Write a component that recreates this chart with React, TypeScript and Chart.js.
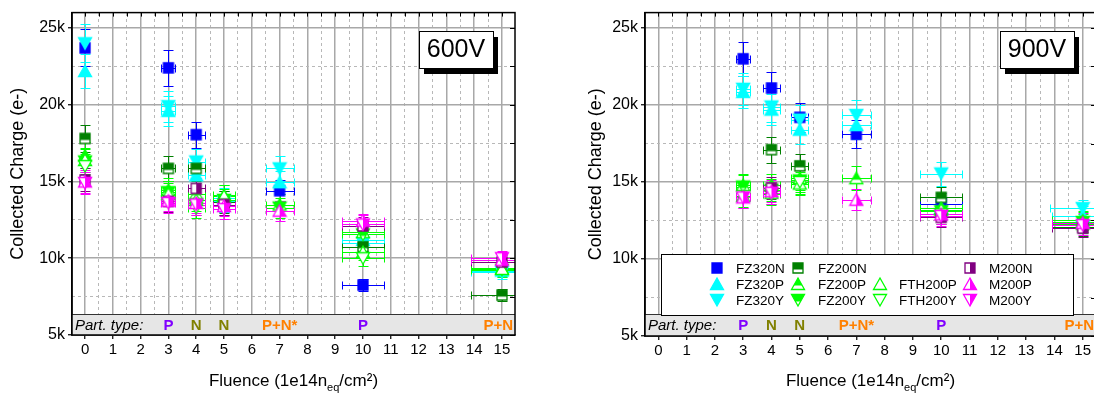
import React, { useEffect, useRef } from 'react';
import { Chart, registerables } from 'chart.js';
Chart.register(...registerables);

const FONT = '"Liberation Sans", Arial, Helvetica, sans-serif';

// ---------- axis / category data ----------
const X_TICKS = [0, 1, 2, 3, 4, 5, 6, 7, 8, 9, 10, 11, 12, 13, 14, 15];
const X_MINOR = [0.5, 1.5, 2.5, 3.5, 4.5, 5.5, 6.5, 7.5, 8.5, 9.5, 10.5, 11.5, 12.5, 13.5, 14.5];
const Y_TICKS = [5000, 10000, 15000, 20000, 25000];
const Y_MINOR = [7500, 12500, 17500, 22500];
const X_MIN = -0.47;
const X_MAX = 15.47;
const Y_MIN = 5000;
const Y_MAX = 26000;
const BAND_TOP = 6400;
const PART_X = [3, 4, 5, 7, 10, 15];
const PART_LABELS = ['P', 'N', 'N', 'P+N*', 'P', 'P+N'];
const SERIES_NAMES = ['FZ320N', 'FZ320P', 'FZ320Y', 'FZ200N', 'FZ200P', 'FZ200Y', 'FTH200P', 'FTH200Y', 'M200N', 'M200P', 'M200Y'];
const VOLTAGES = ['600V', '900V'];

// ---------- series values: [fluence, charge, fluenceErr, chargeErr] ----------
type Row = [number, number, number, number];
const FZ320N_600: Row[] = [[0, 23700, 0, 1200], [3, 22400, 0.25, 1150], [4, 18050, 0.3, 850], [5, 13700, 0.4, 700], [7, 14400, 0.5, 700], [10, 8250, 0.75, 400]];
const FZ320P_600: Row[] = [[0, 22200, 0, 1100], [3, 19600, 0.25, 1000], [4, 15400, 0.3, 800], [5, 13900, 0.4, 700], [7, 14950, 0.5, 750], [10, 11200, 0.75, 550], [15, 9200, 1.1, 450]];
const FZ320Y_600: Row[] = [[0, 24000, 0, 1250], [3, 19900, 0.25, 1000], [4, 16300, 0.3, 800], [5, 13700, 0.4, 700], [7, 15850, 0.5, 800], [10, 11000, 0.75, 550], [15, 9100, 1.1, 450]];
const FZ200N_600: Row[] = [[0, 17800, 0, 900], [3, 15850, 0.25, 800], [4, 15850, 0.3, 800], [5, 13650, 0.4, 700], [10, 10750, 0.75, 550], [15, 7600, 1.1, 380]];
const FZ200P_600: Row[] = [[0, 16700, 0, 850], [3, 14450, 0.25, 750], [4, 14200, 0.3, 700], [5, 14100, 0.4, 700], [7, 13500, 0.5, 700], [10, 11700, 0.75, 600], [15, 9350, 1.1, 470]];
const FZ200Y_600: Row[] = [[0, 16300, 0, 800], [3, 14300, 0.25, 700], [4, 13500, 0.3, 700], [5, 13800, 0.4, 700], [7, 13300, 0.5, 650], [10, 11550, 0.75, 600], [15, 9250, 1.1, 460]];
const FTH200P_600: Row[] = [[0, 16400, 0, 800], [3, 14200, 0.25, 700], [4, 13800, 0.3, 700], [5, 14050, 0.4, 700], [10, 10400, 0.75, 520], [15, 9300, 1.1, 460]];
const FTH200Y_600: Row[] = [[0, 16000, 0, 800], [4, 13300, 0.3, 650], [5, 13500, 0.4, 700], [10, 10000, 0.75, 500]];
const M200N_600: Row[] = [[0, 15100, 0, 750], [3, 13700, 0.25, 700], [4, 14550, 0.3, 700], [5, 13500, 0.4, 700], [10, 12100, 0.75, 600], [15, 9750, 1.1, 480]];
const M200P_600: Row[] = [[0, 15000, 0, 750], [3, 13750, 0.25, 700], [4, 13600, 0.3, 680], [5, 13400, 0.4, 670], [7, 13100, 0.5, 650], [10, 12450, 0.75, 400], [15, 9900, 1.1, 500]];
const M200Y_600: Row[] = [[0, 14900, 0, 700], [3, 13600, 0.25, 680], [4, 13500, 0.3, 680], [5, 13200, 0.4, 660], [10, 12200, 0.75, 600], [15, 10000, 1.1, 500]];

const FZ320N_900: Row[] = [[3, 23000, 0.25, 1100], [4, 21100, 0.3, 1050], [5, 19200, 0.3, 950], [7, 18100, 0.5, 900], [10, 13600, 0.75, 680]];
const FZ320P_900: Row[] = [[3, 20850, 0.25, 1050], [4, 19700, 0.3, 1000], [5, 18400, 0.3, 900], [7, 18700, 0.5, 930], [10, 13300, 0.75, 660], [15, 12800, 1.1, 640]];
const FZ320Y_900: Row[] = [[3, 21050, 0.25, 1050], [4, 19900, 0.3, 1000], [5, 19050, 0.3, 950], [7, 19350, 0.5, 950], [10, 15550, 0.75, 780], [15, 13300, 1.15, 500]];
const FZ200N_900: Row[] = [[4, 17100, 0.3, 850], [5, 16050, 0.3, 800], [10, 14000, 0.75, 700], [15, 12100, 1.1, 600]];
const FZ200P_900: Row[] = [[3, 14800, 0.25, 740], [4, 14800, 0.3, 740], [5, 15250, 0.3, 760], [7, 15250, 0.5, 760], [10, 13300, 0.75, 660], [15, 12500, 1.1, 620]];
const FZ200Y_900: Row[] = [[3, 14700, 0.25, 730], [4, 14500, 0.3, 720], [5, 15100, 0.3, 750], [10, 13100, 0.75, 650], [15, 12400, 1.1, 620]];
const FTH200P_900: Row[] = [[3, 14100, 0.25, 700], [4, 14300, 0.3, 700], [5, 14900, 0.3, 740], [10, 13200, 0.75, 660], [15, 12300, 1.1, 610]];
const FTH200Y_900: Row[] = [[4, 14200, 0.3, 700], [5, 15000, 0.3, 750], [10, 12900, 0.75, 640]];
const M200N_900: Row[] = [[4, 14600, 0.3, 730], [10, 12700, 0.75, 630], [15, 12000, 1.1, 600]];
const M200P_900: Row[] = [[3, 14000, 0.25, 700], [4, 14400, 0.3, 720], [7, 13850, 0.5, 690], [10, 12900, 0.75, 640], [15, 12350, 1.1, 620]];
const M200Y_900: Row[] = [[3, 14000, 0.25, 700], [4, 14300, 0.3, 710], [10, 12800, 0.75, 640], [15, 12200, 1.1, 610]];

const PANEL_600 = [FZ320N_600, FZ320P_600, FZ320Y_600, FZ200N_600, FZ200P_600, FZ200Y_600, FTH200P_600, FTH200Y_600, M200N_600, M200P_600, M200Y_600];
const PANEL_900 = [FZ320N_900, FZ320P_900, FZ320Y_900, FZ200N_900, FZ200P_900, FZ200Y_900, FTH200P_900, FTH200Y_900, M200N_900, M200P_900, M200Y_900];

// ---------- styles ----------
const STYLES: { color: string; shape: string; fill: string }[] = [
  { color: '#0000ff', shape: 'square', fill: 'full' },
  { color: '#00ffff', shape: 'up', fill: 'full' },
  { color: '#00ffff', shape: 'down', fill: 'full' },
  { color: '#008000', shape: 'square', fill: 'top' },
  { color: '#00ff00', shape: 'up', fill: 'top' },
  { color: '#00ff00', shape: 'down', fill: 'top' },
  { color: '#00ff00', shape: 'up', fill: 'none' },
  { color: '#00ff00', shape: 'down', fill: 'none' },
  { color: '#800080', shape: 'square', fill: 'right' },
  { color: '#ff00ff', shape: 'up', fill: 'right' },
  { color: '#ff00ff', shape: 'down', fill: 'right' },
];
const LEGEND_SLOTS = [[0, 0], [0, 1], [0, 2], [1, 0], [1, 1], [1, 2], [2, 1], [2, 2], [3, 0], [3, 1], [3, 2]];
const LEG_MARK_X = [56, 137, 219, 309];
const LEG_TEXT_X = [75, 157, 238, 328];
const LEG_ROW_Y = [14, 30, 46];

function partColor(t: string) {
  if (t === 'P') return '#8000ff';
  if (t === 'N') return '#808000';
  return '#ff8000';
}

function makeMarker(shape: string, color: string, fill: string) {
  const c = document.createElement('canvas');
  c.width = 16;
  c.height = 16;
  const g = c.getContext('2d')!;
  const path = () => {
    g.beginPath();
    if (shape === 'square') g.rect(3, 3, 10, 10);
    else if (shape === 'up') { g.moveTo(8, 2); g.lineTo(14.5, 13.5); g.lineTo(1.5, 13.5); g.closePath(); }
    else { g.moveTo(8, 14); g.lineTo(14.5, 2.5); g.lineTo(1.5, 2.5); g.closePath(); }
  };
  path();
  g.fillStyle = fill === 'full' ? color : '#ffffff';
  g.fill();
  if (fill === 'top' || fill === 'right') {
    g.save();
    g.beginPath();
    if (fill === 'top') g.rect(0, 0, 16, 9.5); else g.rect(8, 0, 8, 16);
    g.clip();
    path();
    g.fillStyle = color;
    g.fill();
    g.restore();
  }
  path();
  g.strokeStyle = color;
  g.lineWidth = 1.3;
  g.stroke();
  return c;
}

function makePlugin(volt: string, showLegend: boolean, markers: HTMLCanvasElement[]) {
  return {
    id: 'panelDecor',
    beforeDatasetsDraw(chart: any) {
      const { ctx, chartArea: a, scales } = chart;
      const x = scales.x, y = scales.y;
      const bt = Math.round(y.getPixelForValue(BAND_TOP));
      ctx.save();
      ctx.fillStyle = '#e6e6e6';
      ctx.fillRect(a.left, bt, a.right - a.left, a.bottom - bt);
      ctx.strokeStyle = '#333';
      ctx.lineWidth = 1;
      ctx.beginPath();
      ctx.moveTo(a.left, bt + 0.5);
      ctx.lineTo(a.right, bt + 0.5);
      ctx.stroke();
      const by = (bt + a.bottom) / 2 + 1;
      ctx.textBaseline = 'middle';
      ctx.font = `italic 15px ${FONT}`;
      ctx.fillStyle = '#000';
      ctx.textAlign = 'left';
      ctx.fillText('Part. type:', a.left + 3, by);
      ctx.font = `bold 15px ${FONT}`;
      ctx.textAlign = 'center';
      PART_X.forEach((v, i) => {
        const t = PART_LABELS[i];
        const w = ctx.measureText(t).width;
        let px = x.getPixelForValue(v);
        if (px + w / 2 > a.right - 2) px = a.right - 2 - w / 2;
        ctx.fillStyle = partColor(t.length > 1 ? 'PN' : t);
        ctx.fillText(t, px, by);
      });
      // error bars
      ctx.beginPath();
      ctx.rect(a.left, a.top, a.right - a.left, a.bottom - a.top);
      ctx.clip();
      ctx.lineWidth = 1;
      chart.data.datasets.forEach((ds: any) => {
        ctx.strokeStyle = ds.errColor;
        ds.errs.forEach((r: Row) => {
          const [fx, v, xe, ye] = r;
          const px = Math.round(x.getPixelForValue(fx)) + 0.5;
          const py = Math.round(y.getPixelForValue(v)) + 0.5;
          ctx.beginPath();
          if (ye > 0) {
            const y1 = Math.round(y.getPixelForValue(v + ye)) + 0.5;
            const y2 = Math.round(y.getPixelForValue(v - ye)) + 0.5;
            ctx.moveTo(px, y1); ctx.lineTo(px, y2);
            ctx.moveTo(px - 5, y1); ctx.lineTo(px + 5, y1);
            ctx.moveTo(px - 5, y2); ctx.lineTo(px + 5, y2);
          }
          if (xe > 0) {
            const x1 = Math.round(x.getPixelForValue(fx - xe)) + 0.5;
            const x2 = Math.round(x.getPixelForValue(fx + xe)) + 0.5;
            ctx.moveTo(x1, py); ctx.lineTo(x2, py);
            ctx.moveTo(x1, py - 4); ctx.lineTo(x1, py + 4);
            ctx.moveTo(x2, py - 4); ctx.lineTo(x2, py + 4);
          }
          ctx.stroke();
        });
      });
      ctx.restore();
    },
    afterDatasetsDraw(chart: any) {
      const { ctx, chartArea: a, scales } = chart;
      const x = scales.x, y = scales.y;
      ctx.save();
      ctx.strokeStyle = '#000';
      ctx.lineWidth = 1.5;
      ctx.strokeRect(a.left, a.top, a.right - a.left, a.bottom - a.top);
      ctx.lineWidth = 1;
      ctx.beginPath();
      [...X_TICKS, ...X_MINOR].forEach((v) => {
        const px = Math.round(x.getPixelForValue(v)) + 0.5;
        ctx.moveTo(px, a.top);
        ctx.lineTo(px, a.top + 4);
      });
      [...Y_TICKS, ...Y_MINOR].forEach((v) => {
        const py = Math.round(y.getPixelForValue(v)) + 0.5;
        ctx.moveTo(a.right, py);
        ctx.lineTo(a.right - 5, py);
      });
      ctx.stroke();
      ctx.restore();
    },
    afterDraw(chart: any) {
      const { ctx, chartArea: a } = chart;
      ctx.save();
      // voltage label
      ctx.font = `25px ${FONT}`;
      const tw = ctx.measureText(volt).width;
      const bw = Math.round(tw + 16), bh = 37;
      const bx = Math.round(a.right - 22 - bw), byy = Math.round(a.top + 18);
      ctx.fillStyle = '#000';
      ctx.fillRect(bx + 5, byy + 6, bw, bh);
      ctx.fillStyle = '#fff';
      ctx.fillRect(bx, byy, bw, bh);
      ctx.strokeStyle = '#000';
      ctx.lineWidth = 1;
      ctx.strokeRect(bx + 0.5, byy + 0.5, bw, bh);
      ctx.fillStyle = '#000';
      ctx.textAlign = 'center';
      ctx.textBaseline = 'middle';
      ctx.fillText(volt, bx + bw / 2, byy + bh / 2 + 1);
      // x title with subscript
      const parts: [string, number, number][] = [['Fluence (1e14n', 17, 0], ['eq', 11, 5], ['/cm²)', 17, 0]];
      let total = 0;
      parts.forEach(([t, s]) => { ctx.font = `${s}px ${FONT}`; total += ctx.measureText(t).width; });
      let cx = (a.left + a.right) / 2 - total / 2;
      ctx.textAlign = 'left';
      ctx.textBaseline = 'alphabetic';
      parts.forEach(([t, s, dy]) => {
        ctx.font = `${s}px ${FONT}`;
        ctx.fillText(t, cx, 386 + dy);
        cx += ctx.measureText(t).width;
      });
      // legend
      if (showLegend) {
        const lx = Math.round(a.left + 16), ly = Math.round(a.top + 241);
        ctx.fillStyle = '#fff';
        ctx.fillRect(lx, ly, 412, 61);
        ctx.strokeStyle = '#000';
        ctx.strokeRect(lx + 0.5, ly + 0.5, 412, 61);
        ctx.font = `13.5px ${FONT}`;
        ctx.textBaseline = 'middle';
        ctx.fillStyle = '#000';
        SERIES_NAMES.forEach((name, i) => {
          const [c, r] = LEGEND_SLOTS[i];
          const my = ly + LEG_ROW_Y[r];
          ctx.drawImage(markers[i], lx + LEG_MARK_X[c] - 8, my - 8);
          ctx.fillStyle = '#000';
          ctx.fillText(name, lx + LEG_TEXT_X[c], my + 1);
        });
      }
      ctx.restore();
    },
  };
}

function buildChart(canvas: HTMLCanvasElement, rows: Row[][], volt: string, legend: boolean, opts: { padTop: number; padRight: number; bottomH: number; titlePad: number }) {
  const markers = STYLES.map((s) => makeMarker(s.shape, s.color, s.fill));
  const datasets = rows.map((rs, i) => ({
    label: SERIES_NAMES[i],
    data: rs.map((r) => ({ x: r[0], y: r[1] })),
    pointStyle: markers[i],
    pointRadius: 6,
    showLine: false,
    errs: rs,
    errColor: STYLES[i].color,
    order: rows.length - i,
  }));
  return new Chart(canvas, {
    type: 'scatter',
    data: { datasets } as any,
    plugins: [makePlugin(volt, legend, markers)],
    options: {
      animation: false,
      responsive: false,
      layout: { padding: { top: opts.padTop, right: opts.padRight, left: 0, bottom: 0 } },
      plugins: { legend: { display: false }, tooltip: { enabled: false } },
      scales: {
        x: {
          type: 'linear', position: 'bottom', min: X_MIN, max: X_MAX,
          afterBuildTicks: (s: any) => { s.ticks = X_TICKS.map((v) => ({ value: v })); },
          afterFit: (s: any) => { s.height = opts.bottomH; },
          grid: { color: '#a8a8a8', lineWidth: 1.5, tickColor: '#000', tickLength: 4, tickWidth: 1.2 },
          border: { color: '#000', width: 1.5 },
          ticks: { color: '#000', font: { family: FONT, size: 15 }, padding: 2, autoSkip: false, maxRotation: 0, callback: (v: any) => String(v) },
        },
        xm: {
          type: 'linear', position: 'top', min: X_MIN, max: X_MAX,
          afterBuildTicks: (s: any) => { s.ticks = X_MINOR.map((v) => ({ value: v })); },
          afterFit: (s: any) => { s.height = 0; },
          grid: { color: '#b8b8b8', lineWidth: 1, drawTicks: false },
          border: { display: false, dash: [3, 3] },
          ticks: { display: false },
        },
        y: {
          type: 'linear', position: 'left', min: Y_MIN, max: Y_MAX,
          afterBuildTicks: (s: any) => { s.ticks = Y_TICKS.map((v) => ({ value: v })); },
          afterFit: (s: any) => { s.width = 72; },
          grid: { color: '#a8a8a8', lineWidth: 1.5, tickColor: '#000', tickLength: 4, tickWidth: 1.2 },
          border: { color: '#000', width: 1.5 },
          ticks: { color: '#000', font: { family: FONT, size: 16 }, padding: 3, callback: (v: any) => `${Number(v) / 1000}k` },
          title: { display: true, text: 'Collected Charge (e-)', color: '#000', font: { family: FONT, size: 18 }, padding: { top: opts.titlePad, bottom: 0 } },
        },
        ym: {
          type: 'linear', position: 'left', min: Y_MIN, max: Y_MAX,
          afterBuildTicks: (s: any) => { s.ticks = Y_MINOR.map((v) => ({ value: v })); },
          afterFit: (s: any) => { s.width = 0; },
          grid: { color: '#b8b8b8', lineWidth: 1, drawTicks: false },
          border: { display: false, dash: [3, 3] },
          ticks: { display: false },
        },
      },
    } as any,
  });
}

export default function App() {
  const ref1 = useRef<HTMLCanvasElement>(null);
  const ref2 = useRef<HTMLCanvasElement>(null);
  useEffect(() => {
    const c1 = buildChart(ref1.current!, PANEL_600, VOLTAGES[0], false, { padTop: 6, padRight: 45, bottomH: 61, titlePad: 7 });
    const c2 = buildChart(ref2.current!, PANEL_900, VOLTAGES[1], true, { padTop: 3, padRight: 45, bottomH: 60, titlePad: 12 });
    return () => { c1.destroy(); c2.destroy(); };
  }, []);
  return (
    <div style={{ position: 'absolute', left: 0, top: 0, width: 1094, height: 396, overflow: 'hidden', background: '#fff' }}>
      <div style={{ position: 'absolute', left: 0, top: 0, width: 560, height: 396 }}>
        <canvas ref={ref1} width={560} height={396} style={{ display: 'block' }} />
      </div>
      <div style={{ position: 'absolute', left: 573, top: 0, width: 568, height: 396 }}>
        <canvas ref={ref2} width={568} height={396} style={{ display: 'block' }} />
      </div>
    </div>
  );
}
